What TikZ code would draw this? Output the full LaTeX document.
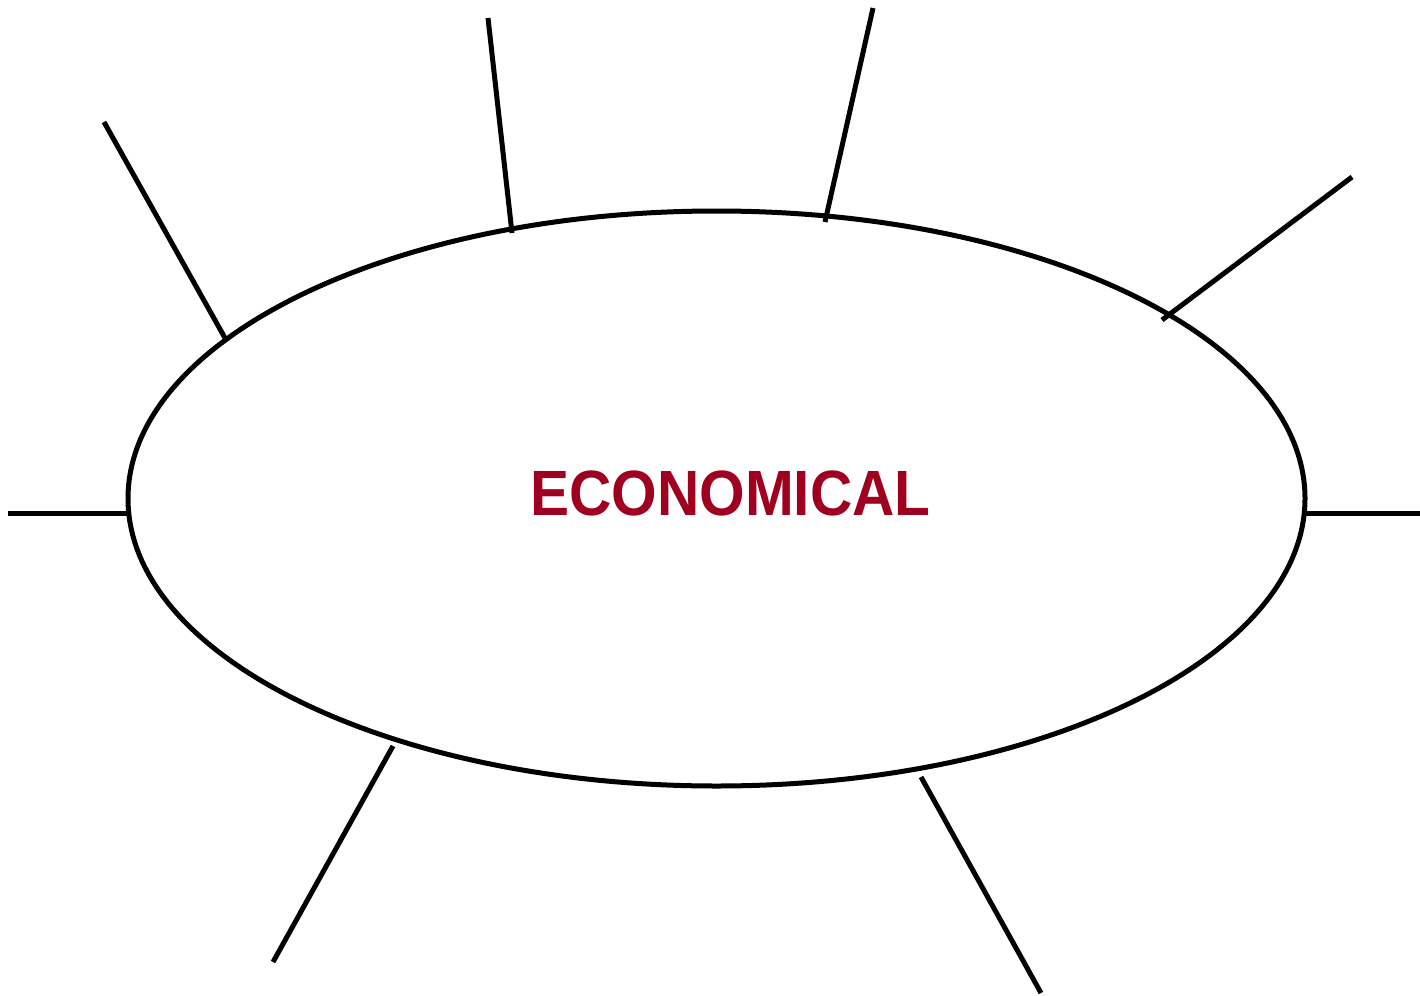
\documentclass[tikz,border=0pt]{standalone}
\usepackage{fontspec}
\setmainfont{Liberation Sans}
\usetikzlibrary{shapes.geometric}
\definecolor{econred}{HTML}{A00020}
\tikzset{
  ray/.style={line width=5pt, draw=black},
  hub/.style={ellipse, draw=black, line width=5pt, inner sep=0pt,
    minimum width=1177pt, minimum height=575pt},
  label/.style={text=econred, font=\fontsize{64pt}{64pt}\selectfont\bfseries,
    inner sep=0pt, xscale=0.915}
}
\begin{document}
\begin{tikzpicture}[x=1pt,y=-1pt]
\useasboundingbox (0,0) rectangle (1420,995);
\node[hub] (eco) at (716.5,498.5) {};
\node[label] (txt) at (730.5,493) {ECONOMICAL};
% ray ends
\coordinate (a1) at (104,122);  \coordinate (b1) at (225,338);
\coordinate (a2) at (488,18);   \coordinate (b2) at (512,233);
\coordinate (a3) at (873,8);    \coordinate (b3) at (825,222);
\coordinate (a4) at (1352,177); \coordinate (b4) at (1162,320);
\coordinate (a5) at (8,513);    \coordinate (b5) at (128,513);
\coordinate (a6) at (1420,513); \coordinate (b6) at (1305,513);
\coordinate (a7) at (273,962);  \coordinate (b7) at (393,746);
\coordinate (a8) at (1041,993); \coordinate (b8) at (921,777);
\foreach \i in {1,...,8} {\draw[ray] (a\i) -- (b\i);}
\end{tikzpicture}
\end{document}
